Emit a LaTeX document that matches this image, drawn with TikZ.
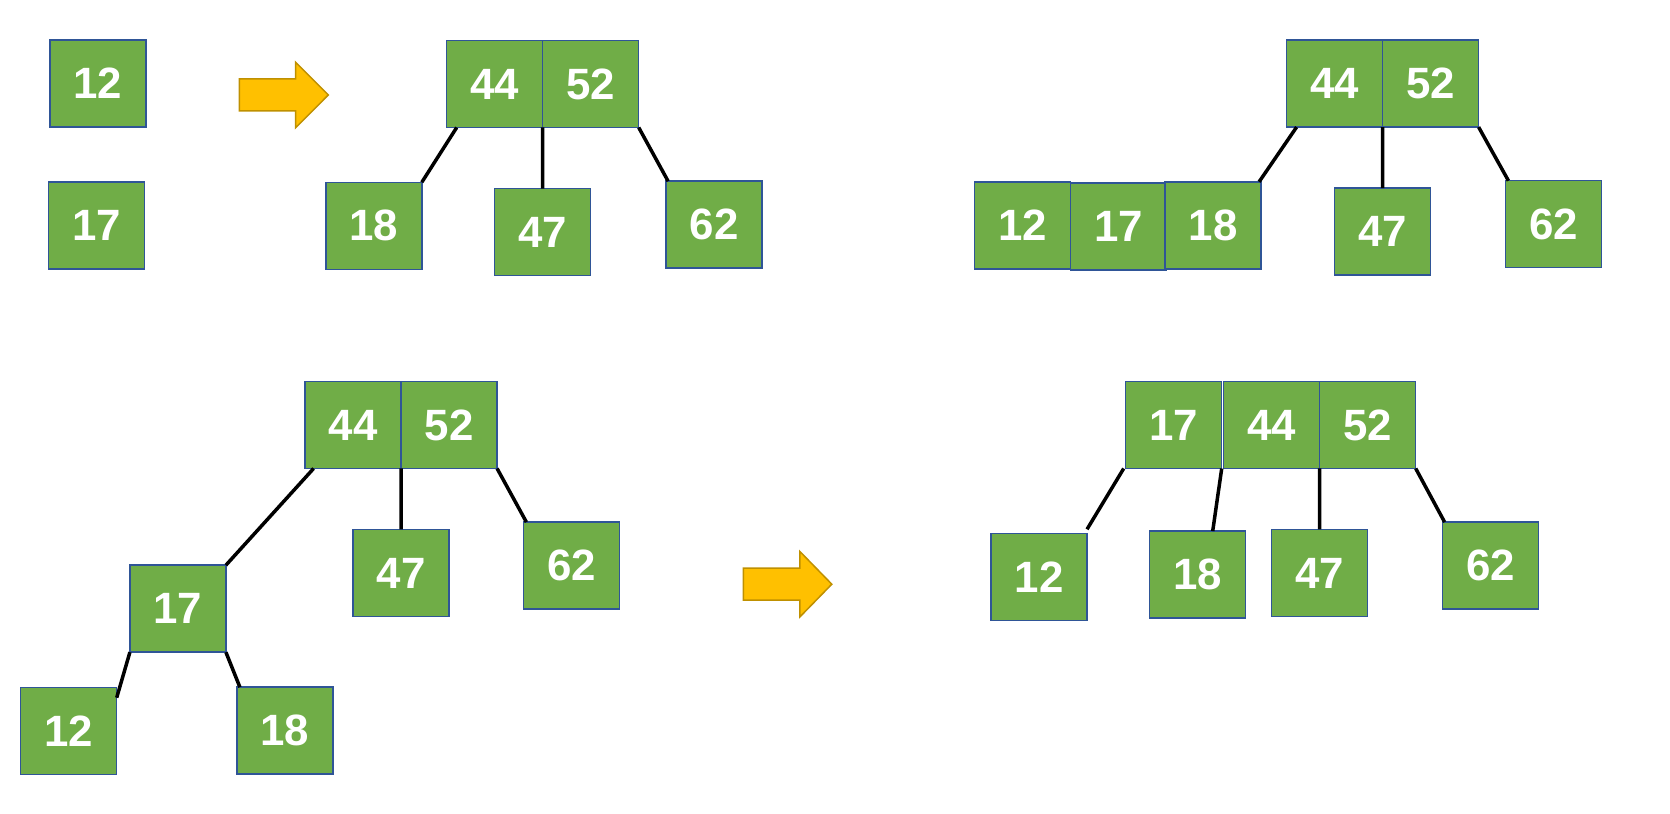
\documentclass[tikz,border=0pt]{standalone}
\usepackage{fontspec}
\setmainfont{Liberation Sans}
\usetikzlibrary{positioning}
\definecolor{keyfill}{HTML}{70AD47}
\definecolor{keyline}{HTML}{2F5597}
\definecolor{arrowfill}{HTML}{FFC000}
\definecolor{arrowline}{HTML}{BF9000}
\begin{document}
\begin{tikzpicture}[x=1bp,y=1bp,
  key/.style={draw=keyline,fill=keyfill,line width=1.5bp,minimum width=96bp,minimum height=87bp,
    inner sep=0pt,outer sep=0pt,text=white,font=\fontsize{44}{44}\selectfont\bfseries},
  link/.style={line width=3.5bp,black},
  bigarrow/.style={draw=arrowline,fill=arrowfill,line width=1.5bp,line join=miter}]
  \useasboundingbox (0,0) rectangle (1670,814);
%%
  % Node: first keys
  \node[key] (a12) at (98,730.4) {12};
  \node[key] (a17) at (96.4,588.7) {17};
  % Arrow: step one
  \draw[bigarrow] (239.3,703) -- (295.7,703) -- (295.7,686.3) -- (328.3,719) -- (295.7,751.7)
    -- (295.7,735) -- (239.3,735) -- cycle;
  % Node: tree one
  \node[key] (b44) at (494.7,730) {44};
  \node[key,right=0pt of b44] (b52) {52};
  \node[key] (b18) at (373.8,588.2) {18};
  \node[key] (b47) at (542.7,581.8) {47};
  \node[key] (b62) at (714.1,589.3) {62};
  % Edge: tree one
  \draw[link] ([xshift=10bp]b44.south west) -- (b18.north east);
  \draw[link] (b44.south east) -- (b47.north);
  \draw[link] (b52.south east) -- ([xshift=2bp]b62.north west);
  % Node: tree two
  \node[key] (c44) at (1334.6,730.4) {44};
  \node[key,right=0pt of c44] (c52) {52};
  \node[key] (c12) at (1022.5,588.7) {12};
  \node[key] (c17) at (1118.4,587.7) {17};
  \node[key] (c18) at (1213.1,588.7) {18};
  \node[key] (c47) at (1382.6,582.3) {47};
  \node[key] (c62) at (1553.4,589.8) {62};
  % Edge: tree two
  \draw[link] ([xshift=10bp]c44.south west) -- ([xshift=-2bp]c18.north east);
  \draw[link] (c44.south east) -- (c47.north);
  \draw[link] (c52.south east) -- ([xshift=3bp]c62.north west);
  % Node: tree three
  \node[key] (d44) at (353.1,389) {44};
  \node[key,right=0pt of d44] (d52) {52};
  \node[key] (d17) at (177.9,205.3) {17};
  \node[key] (d47) at (401.1,241) {47};
  \node[key] (d62) at (571.4,248.4) {62};
  \node[key] (d12) at (68.7,82.8) {12};
  \node[key] (d18) at (284.9,83.3) {18};
  % Edge: tree three
  \draw[link] ([xshift=8.5bp]d44.south west) -- (d17.north east);
  \draw[link] (d44.south east) -- (d47.north);
  \draw[link] (d52.south east) -- ([xshift=3bp]d62.north west);
  \draw[link] (d17.south west) -- ([yshift=-10bp]d12.north east);
  \draw[link] (d17.south east) -- ([xshift=3bp]d18.north west);
  % Arrow: step two
  \draw[bigarrow] (743.4,213.8) -- (799.9,213.8) -- (799.9,197.1) -- (831.8,229.8) -- (799.9,262.5)
    -- (799.9,245.8) -- (743.4,245.8) -- cycle;
  % Node: tree four
  \node[key] (e17) at (1173.7,389) {17};
  \node[key,right=2bp of e17] (e44) {44};
  \node[key,right=0pt of e44] (e52) {52};
  \node[key] (e12) at (1039,237.2) {12};
  \node[key] (e18) at (1197.7,239.4) {18};
  \node[key] (e47) at (1319.7,241) {47};
  \node[key] (e62) at (1490.6,248.4) {62};
  % Edge: tree four
  \draw[link] ([xshift=-2bp]e17.south west) -- ([yshift=4bp]e12.north east);
  \draw[link] (e17.south east) -- ([xshift=-33bp]e18.north east);
  \draw[link] (e44.south east) -- (e47.north);
  \draw[link] (e52.south east) -- ([xshift=2bp]e62.north west);
%
\end{tikzpicture}
\end{document}
